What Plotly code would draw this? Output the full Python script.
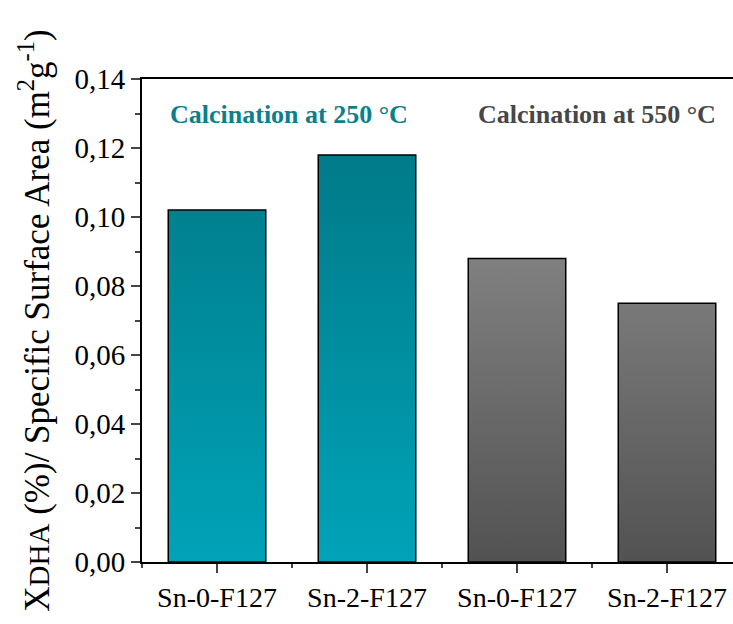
import plotly.graph_objects as go

categories = ["Sn-0-F127", "Sn-2-F127", "Sn-0-F127", "Sn-2-F127"]
values = [0.102, 0.118, 0.088, 0.075]
groups = ["250", "250", "550", "550"]
y_ticks = [0.00, 0.02, 0.04, 0.06, 0.08, 0.10, 0.12, 0.14]

grad = {
    "250": dict(colorscale=[[0, "#00a3b8"], [1, "#007a88"]], start=0, stop=0.12),
    "550": dict(colorscale=[[0, "#525252"], [1, "#818181"]], start=0, stop=0.09),
}
bar_w = 0.65
FONT = "Liberation Serif"

fig = go.Figure()
for i, (v, g) in enumerate(zip(values, groups)):
    xs = [i - bar_w / 2, i - bar_w / 2, i + bar_w / 2, i + bar_w / 2, i - bar_w / 2]
    ys = [0, v, v, 0, 0]
    gd = grad[g]
    fig.add_trace(go.Scatter(
        x=xs, y=ys, mode="lines", fill="toself",
        fillgradient=dict(type="vertical", colorscale=gd["colorscale"],
                          start=gd["start"], stop=gd["stop"]),
        line=dict(color="black", width=1.5),
        showlegend=False, hoverinfo="skip"))

fig.add_annotation(x=-0.327, y=0.1296, xref="x", yref="y", xanchor="left",
                   text="<b>Calcination at 250 °C</b>", showarrow=False,
                   font=dict(family=FONT, size=26, color="#0b7f8c"))
fig.add_annotation(x=3.34, y=0.1296, xref="x", yref="y", xanchor="right",
                   text="<b>Calcination at 550 °C</b>", showarrow=False,
                   font=dict(family=FONT, size=26, color="#474747"))

fig.update_layout(
    width=733, height=624,
    margin=dict(l=142, r=0, t=79, b=62),
    paper_bgcolor="white", plot_bgcolor="white",
    separators=", ",
    font=dict(family=FONT, size=28, color="black"),
    xaxis=dict(range=[-0.5, 3.44], tickmode="array", tickvals=list(range(len(categories))),
               ticktext=categories, ticks="outside", ticklen=9, tickwidth=1.5,
               showline=True, linewidth=2, linecolor="black", mirror=True,
               showgrid=False, zeroline=False,
               minor=dict(tick0=0.5, dtick=1, ticks="outside", ticklen=4, tickwidth=1.5,
                          showgrid=False)),
    yaxis=dict(range=[0, 0.14], tickmode="array", tickvals=y_ticks, tickformat=".2f",
               ticks="outside", ticklen=9, tickwidth=1.5,
               showline=True, linewidth=2, linecolor="black", mirror=False,
               showgrid=False, zeroline=False, tickfont=dict(size=29),
               minor=dict(tick0=0.01, dtick=0.02, ticks="outside", ticklen=5, tickwidth=1.5,
                          showgrid=False),
               title=dict(text="X<span style=\"font-size:29px\">DHA</span> (%)/ Specific Surface Area (m<sup>2</sup>g<sup>-1</sup>)",
                          font=dict(family=FONT, size=35), standoff=14)),
)

fig.write_html("out.html",
               config={"displayModeBar": False},
               post_script="document.body.style.margin='0';document.body.style.overflow='hidden';")
